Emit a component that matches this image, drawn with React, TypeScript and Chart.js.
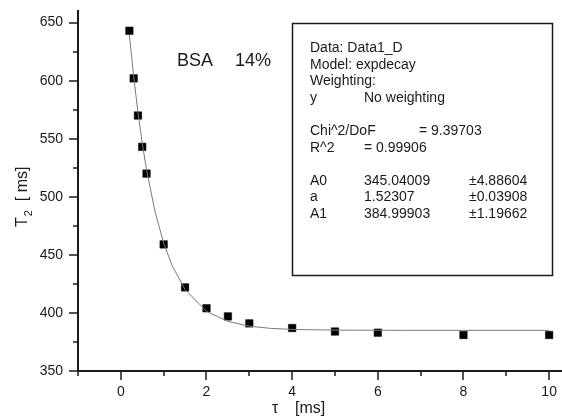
import React, { useEffect, useRef } from "react";
import { Chart, registerables } from "chart.js";

Chart.register(...registerables);

// Measured points: tau [ms] vs T2 [ms]
const tauMs = [0.2, 0.3, 0.4, 0.5, 0.6, 1.0, 1.5, 2.0, 2.5, 3.0, 4.0, 5.0, 6.0, 8.0, 10.0];
const t2Ms = [643, 602, 570, 543, 520, 459, 422, 404, 397, 391, 387, 384, 383, 381, 381];

// Fitted curve
const fitTau = [0.2, 0.3, 0.4, 0.5, 0.6, 0.8, 1.0, 1.2, 1.5, 2.0, 2.5, 3.0, 3.5, 4.0, 5.0, 6.0, 7.0, 8.0, 9.0, 10.0];
const fitT2 = [639.4, 603.5, 572.6, 546.1, 523.4, 487.0, 460.2, 440.5, 420.1, 401.4, 392.7, 388.6, 386.7, 385.8, 385.2, 385.1, 385.0, 385.0, 385.0, 385.0];

// Axis ticks (all tick marks) and labels (majors)
const xTickValues = [-1, 0, 1, 2, 3, 4, 5, 6, 7, 8, 9, 10];
const xTickLabels = ["0", "2", "4", "6", "8", "10"];
const yTickValues = [350, 375, 400, 425, 450, 475, 500, 525, 550, 575, 600, 625, 650];
const yTickLabels = ["350", "400", "450", "500", "550", "600", "650"];

const sampleLabel = ["BSA", "14%"];

// Fit report box rows
const reportRows: string[][] = [
  ["Data: Data1_D", "", "", ""],
  ["Model: expdecay", "", "", ""],
  ["Weighting:", "", "", ""],
  ["y", "No weighting", "", ""],
  ["", "", "", ""],
  ["Chi^2/DoF", "", "= 9.39703", ""],
  ["R^2", "= 0.99906", "", ""],
  ["", "", "", ""],
  ["A0", "345.04009", "", "±4.88604"],
  ["a", "1.52307", "", "±0.03908"],
  ["A1", "384.99903", "", "±1.19662"],
];

const FONT = "'Liberation Sans', Arial, sans-serif";
const INK = "#1a1a1a";

const decorPlugin = {
  id: "decor",
  afterDraw(chart: any) {
    const { ctx, chartArea } = chart;
    const xs = chart.scales.x;
    const ys = chart.scales.y;
    ctx.save();
    ctx.strokeStyle = INK;
    ctx.lineWidth = 1.5;
    for (const v of xTickValues) {
      const len = v % 2 === 0 ? 9 : 5;
      const px = Math.round(xs.getPixelForValue(v));
      ctx.beginPath();
      ctx.moveTo(px, chartArea.bottom);
      ctx.lineTo(px, chartArea.bottom + len);
      ctx.stroke();
    }
    for (const v of yTickValues) {
      const len = v % 50 === 0 ? 9 : 5;
      const py = Math.round(ys.getPixelForValue(v));
      ctx.beginPath();
      ctx.moveTo(chartArea.left, py);
      ctx.lineTo(chartArea.left - len, py);
      ctx.stroke();
    }

    ctx.fillStyle = INK;
    ctx.textBaseline = "alphabetic";
    ctx.textAlign = "left";

    // x axis title
    ctx.font = `16px ${FONT}`;
    ctx.fillText("τ", chartArea.left + 194, 413);
    ctx.fillText("[ms]", chartArea.left + 217, 413);

    // y axis title (rotated)
    ctx.save();
    ctx.translate(27, 227);
    ctx.rotate(-Math.PI / 2);
    ctx.font = `16px ${FONT}`;
    ctx.fillText("T", 0, 0);
    let w = ctx.measureText("T").width;
    ctx.font = `11px ${FONT}`;
    ctx.fillText("2", w + 1, 5);
    w += ctx.measureText("2").width + 1;
    ctx.font = `16px ${FONT}`;
    ctx.fillText("  [ ms]", w, 0);
    ctx.restore();

    // Sample label
    ctx.font = `18px ${FONT}`;
    ctx.fillText(sampleLabel[0], 177, 66);
    ctx.fillText(sampleLabel[1], 235, 66);

    // Report box
    ctx.lineWidth = 1.5;
    ctx.strokeRect(292.5, 23.5, 260, 252);
    ctx.font = `14px ${FONT}`;
    const colX = [310, 364, 419, 469];
    let yy = 52;
    for (const row of reportRows) {
      row.forEach((txt, i) => {
        if (txt) ctx.fillText(txt, colX[i], yy);
      });
      yy += 16.6;
    }
    ctx.restore();
  },
};

export default function App() {
  const ref = useRef<HTMLCanvasElement | null>(null);
  useEffect(() => {
    if (!ref.current) return;
    const chart = new Chart(ref.current, {
      type: "scatter",
      data: {
        datasets: [
          {
            type: "line",
            label: "fit",
            data: fitTau.map((x, i) => ({ x, y: fitT2[i] })),
            borderColor: "#7a7a7a",
            borderWidth: 1,
            pointRadius: 0,
            tension: 0,
            fill: false,
          },
          {
            type: "scatter",
            label: "T2",
            data: tauMs.map((x, i) => ({ x, y: t2Ms[i] })),
            pointStyle: "rect",
            pointRadius: 5.3,
            backgroundColor: "#000",
            borderColor: "#000",
            borderWidth: 0.5,
          },
        ],
      },
      options: {
        responsive: false,
        animation: false,
        layout: { autoPadding: false, padding: { top: 11, right: 0, left: 0, bottom: 0 } },
        plugins: {
          legend: { display: false },
          tooltip: { enabled: false },
          title: { display: false },
        },
        scales: {
          x: {
            type: "linear",
            min: -1,
            max: 10.3,
            afterBuildTicks: (s: any) => {
              s.ticks = xTickValues.map((value) => ({ value }));
            },
            afterFit: (s: any) => {
              s.height = 46;
              s.paddingLeft = 0;
              s.paddingRight = 0;
            },
            grid: { display: false, drawTicks: false },
            border: { display: true, color: INK, width: 2 },
            ticks: {
              autoSkip: false,
              maxRotation: 0,
              padding: 13,
              color: INK,
              font: { family: FONT, size: 14 },
              callback: (v: any) => {
                const n = Number(v);
                if (n < 0 || n % 2 !== 0) return "";
                return xTickLabels[n / 2] ?? "";
              },
            },
          },
          y: {
            type: "linear",
            min: 350,
            max: 660,
            afterBuildTicks: (s: any) => {
              s.ticks = yTickValues.map((value) => ({ value }));
            },
            afterFit: (s: any) => {
              s.width = 78;
              s.paddingTop = 0;
              s.paddingBottom = 0;
            },
            grid: { display: false, drawTicks: false },
            border: { display: true, color: INK, width: 2 },
            ticks: {
              autoSkip: false,
              padding: 15,
              color: INK,
              font: { family: FONT, size: 14 },
              callback: (v: any) => {
                const n = Number(v);
                if (n % 50 !== 0) return "";
                return yTickLabels[(n - 350) / 50] ?? "";
              },
            },
          },
        },
      },
      plugins: [decorPlugin],
    });
    return () => chart.destroy();
  }, []);
  return (
    <div style={{ position: "absolute", left: 0, top: 0, width: 562, height: 417, background: "#fff" }}>
      <canvas ref={ref} width={562} height={417} style={{ display: "block" }} />
    </div>
  );
}
